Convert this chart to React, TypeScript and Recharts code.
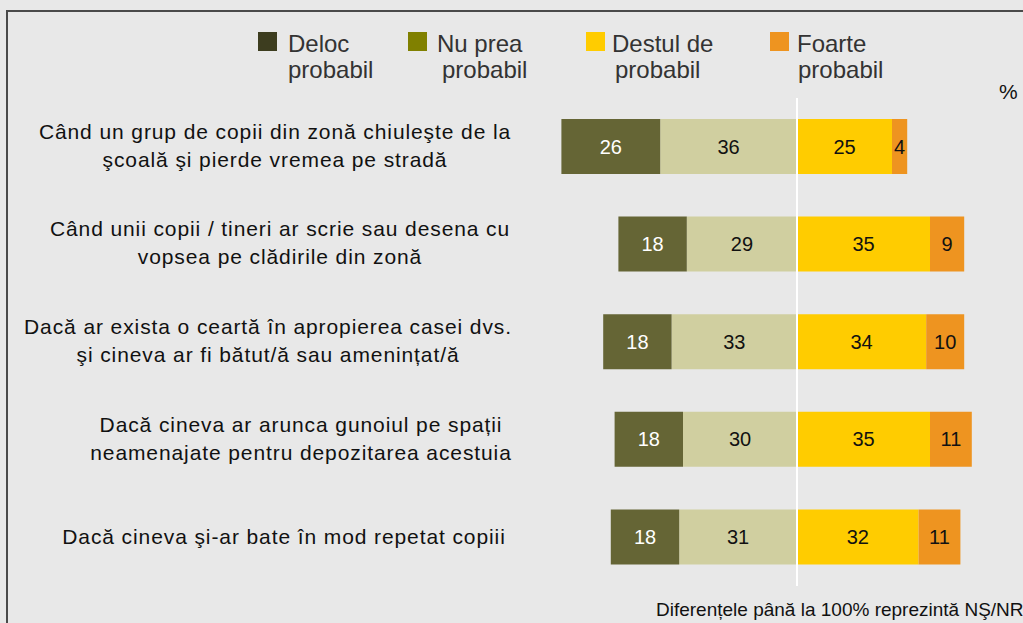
import React from "react";
import { Bar, BarChart, LabelList, ReferenceLine, XAxis, YAxis } from "recharts";

const categories = [
  ["Când un grup de copii din zonă chiuleşte de la", "şcoală şi pierde vremea pe stradă"],
  ["Când unii copii / tineri ar scrie sau desena cu", "vopsea pe clădirile din zonă"],
  ["Dacă ar exista o ceartă în apropierea casei dvs.", "şi cineva ar fi bătut/ă sau amenințat/ă"],
  ["Dacă cineva ar arunca gunoiul pe spații", "neamenajate pentru depozitarea acestuia"],
  ["Dacă cineva şi-ar bate în mod repetat copiii"]
];

const deloc = [26, 18, 18, 18, 18];
const nuPrea = [36, 29, 33, 30, 31];
const destul = [25, 35, 34, 35, 32];
const foarte = [4, 9, 10, 11, 11];

const legendItems = [
  { lines: ["Deloc", "probabil"], color: "#3d3d1f" },
  { lines: ["Nu prea", "probabil"], color: "#808000" },
  { lines: ["Destul de", "probabil"], color: "#ffcc00" },
  { lines: ["Foarte", "probabil"], color: "#ee9420" }
];

const footnote = "Diferențele până la 100% reprezintă NŞ/NR";

const data = categories.map((lines, i) => ({
  name: String(i),
  deloc: -deloc[i],
  nuPrea: -nuPrea[i],
  destul: destul[i],
  foarte: foarte[i]
}));

const font = "'Liberation Sans', Arial, sans-serif";

// layout only
const labelCenters = [275, 280, 268, 301, 284];
const squareLeft = [258, 408, 586, 770];
const textLeft = [288, 437, 612, 797];
const secondIndent = [0, 5, 3, 1];

function CategoryTick({ y, payload }: any) {
  const i = Number(payload.value);
  const lines = categories[i];
  const cx = labelCenters[i];
  const start = lines.length === 1 ? 7 : -8;
  return (
    <text
      x={cx}
      y={y + start}
      textAnchor="middle"
      fontSize={21}
      fontFamily={font}
      fill="#111"
      style={{ letterSpacing: "0.9px" }}
    >
      {lines.map((line, j) => (
        <tspan key={j} x={cx} dy={j === 0 ? 0 : 28}>
          {line}
        </tspan>
      ))}
    </text>
  );
}

const abs = (v: any) => Math.abs(Number(v));

export default function App() {
  return (
    <div
      style={{
        position: "fixed",
        left: 0,
        top: 0,
        width: 1023,
        height: 623,
        overflow: "hidden",
        background: "#e8e8e8",
        fontFamily: font
      }}
    >
      <div
        style={{
          position: "absolute",
          left: 6,
          top: 10,
          width: 1100,
          height: 700,
          borderTop: "2px solid #4a4a4a",
          borderLeft: "2px solid #4a4a4a"
        }}
      />
      {legendItems.map((item, i) => (
        <React.Fragment key={i}>
          <div
            style={{
              position: "absolute",
              left: squareLeft[i],
              top: 32,
              width: 19,
              height: 19,
              background: item.color
            }}
          />
          <div
            style={{
              position: "absolute",
              left: textLeft[i],
              top: 31,
              fontSize: 24,
              lineHeight: "26px",
              color: "#333",
              whiteSpace: "nowrap"
            }}
          >
            <div>{item.lines[0]}</div>
            <div style={{ paddingLeft: secondIndent[i] }}>{item.lines[1]}</div>
          </div>
        </React.Fragment>
      ))}
      <div style={{ position: "absolute", left: 999, top: 80, fontSize: 21, color: "#111" }}>%</div>
      <div
        style={{
          position: "absolute",
          left: 656,
          top: 599,
          fontSize: 19,
          color: "#111",
          whiteSpace: "nowrap"
        }}
      >
        {footnote}
      </div>
      <div style={{ position: "absolute", left: 0, top: 0 }}>
        <BarChart
          width={1023}
          height={623}
          data={data}
          layout="vertical"
          stackOffset="sign"
          barSize={55}
          margin={{ top: 98, right: 36, bottom: 37, left: 0 }}
        >
          <XAxis type="number" domain={[-70, 50]} hide />
          <YAxis
            type="category"
            dataKey="name"
            width={531}
            axisLine={false}
            tickLine={false}
            tick={<CategoryTick />}
          />
          <Bar dataKey="nuPrea" stackId="a" fill="#d0cfa0" isAnimationActive={false}>
            <LabelList dataKey="nuPrea" position="center" formatter={abs} fill="#111" fontSize={20} fontFamily={font} />
          </Bar>
          <Bar dataKey="deloc" stackId="a" fill="#656535" isAnimationActive={false}>
            <LabelList dataKey="deloc" position="center" formatter={abs} fill="#fff" fontSize={20} fontFamily={font} />
          </Bar>
          <Bar dataKey="destul" stackId="a" fill="#ffcc00" isAnimationActive={false}>
            <LabelList dataKey="destul" position="center" formatter={abs} fill="#111" fontSize={20} fontFamily={font} />
          </Bar>
          <Bar dataKey="foarte" stackId="a" fill="#ee9420" isAnimationActive={false}>
            <LabelList dataKey="foarte" position="center" formatter={abs} fill="#111" fontSize={20} fontFamily={font} />
          </Bar>
          <ReferenceLine x={0} stroke="#ffffff" strokeWidth={2} />
        </BarChart>
      </div>
    </div>
  );
}
